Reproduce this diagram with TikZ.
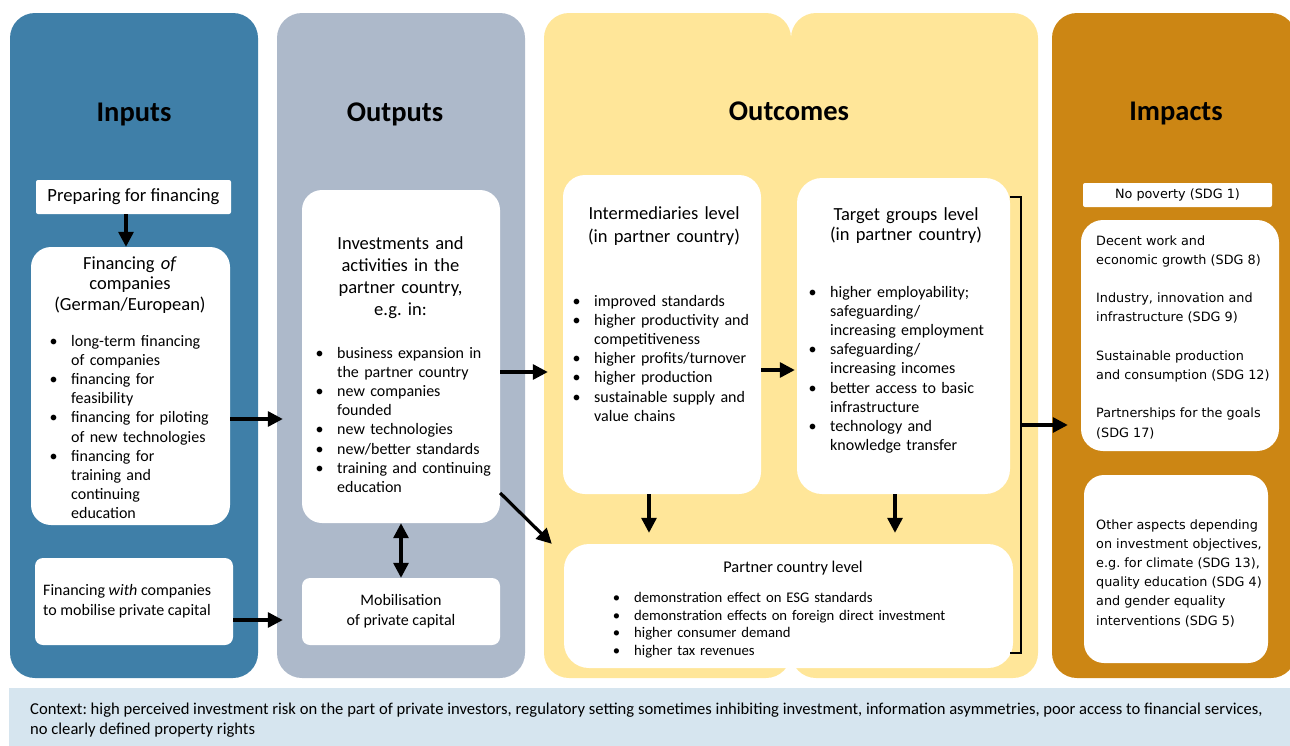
\documentclass[tikz,border=0pt]{standalone}
\usepackage{fontspec}
\setmainfont{Carlito}
\newfontfamily\verdana{DejaVu Sans}
\usepackage{xcolor}
\usepackage{tikz}
\usetikzlibrary{arrows.meta}
\definecolor{inputblue}{HTML}{3F7FA8}
\definecolor{outputgrey}{HTML}{ADB9CA}
\definecolor{outcomeyellow}{HTML}{FFE699}
\definecolor{impactgold}{HTML}{CC8614}
\definecolor{contextblue}{HTML}{D6E5EF}
\newcommand{\itm}[1]{\noindent\llap{\makebox[35.2pt][c]{\textbullet}}#1\par}
\frenchspacing

\begin{document}
\begin{tikzpicture}[x=1pt,y=-1pt,
  panel/.style={rounded corners=25pt, minimum height=665pt, inner sep=0pt},
  wbox/.style={fill=white, inner sep=0pt},
  ttl/.style={anchor=base, font=\bfseries\fontsize{28.5}{34}\selectfont},
  head/.style={anchor=base, align=center, inner sep=0pt, font=\fontsize{18.5}{22}\selectfont},
  lst/.style={anchor=base west, align=left, inner sep=0pt, text width=#1, font=\fontsize{16}{19.2}\selectfont},
  sdgtxt/.style={anchor=west, align=left, inner sep=0pt, font=\verdana\fontsize{12.8}{19.2}\selectfont},
  arr/.style={line width=3.2pt, -{Triangle[length=15pt,width=15pt]}},
  dbl/.style={line width=3.2pt, {Triangle[length=15pt,width=15pt]}-{Triangle[length=15pt,width=15pt]}},
  brk/.style={line width=2.5pt}]
\useasboundingbox (0,0) rectangle (1290,745);

\node[panel, fill=inputblue, minimum width=248pt] (inputs) at (134,345.5) {};
\node[panel, fill=outputgrey, minimum width=248pt] (outputs) at (401,345.5) {};
\node[panel, fill=outcomeyellow, minimum width=247pt] (outcomesL) at (667.5,345.5) {};
\node[panel, fill=outcomeyellow, minimum width=247pt] (outcomesR) at (914.5,345.5) {};
\node[panel, fill=impactgold, minimum width=244pt] (impacts) at (1174,345.5) {};
\node[fill=contextblue, minimum width=1283pt, minimum height=58pt, inner sep=0pt] (context) at (650.5,717) {};
\node[anchor=base west, align=left, inner sep=0pt, font=\fontsize{16.6}{20}\selectfont] (contexttext) at (30,734) {Context: high perceived investment risk on the part of private investors, regulatory setting sometimes inhibiting investment, information asymmetries, poor access to financial services,\\ no clearly defined property rights};

\node[ttl] (tin) at (134,121) {Inputs};
\node[ttl] (tout) at (395,121) {Outputs};
\node[ttl] (toc) at (789,120) {Outcomes};
\node[ttl] (tim) at (1176,120) {Impacts};

\node[wbox, rounded corners=2pt, minimum width=195pt, minimum height=34pt, font=\fontsize{18.6}{22}\selectfont] (prep) at (133.5,197) {Preparing for financing};
\node[wbox, rounded corners=20pt, minimum width=199pt, minimum height=278pt] (finof) at (130.5,386) {};
\node[head, text width=190pt, font=\fontsize{18.5}{20.5}\selectfont] (finofhead) at (130,269) {Financing \emph{of}\\ companies\\ (German/European)};
\node[lst=165pt] (finoflist) at (71,346) {\itm{long-term financing\\ of companies}\itm{financing for\\ feasibility}\itm{financing for piloting\\ of new technologies}\itm{financing for\\ training and\\ continuing\\ education}};
\node[wbox, rounded corners=8pt, minimum width=198pt, minimum height=87pt] (finwith) at (134,601.5) {};
\node[anchor=west, align=left, inner sep=0pt, font=\fontsize{16}{20}\selectfont] (finwithtext) at (43,601) {Financing \emph{with} companies\\ to mobilise private capital};

\node[wbox, rounded corners=20pt, minimum width=198pt, minimum height=333pt] (invest) at (401,356.5) {};
\node[head, text width=190pt] (investhead) at (400.5,249) {Investments and\\ activities in the\\ partner country,\\ e.g. in:};
\node[lst=160pt] (investlist) at (337,358) {\itm{business expansion in\\ the partner country}\itm{new companies\\ founded}\itm{new technologies}\itm{new/better standards}\itm{training and continuing\\ education}};
\node[wbox, rounded corners=8pt, minimum width=198pt, minimum height=67pt, align=center, font=\fontsize{16}{20}\selectfont] (mobil) at (401,611.5) {Mobilisation\\ of private capital};

\node[wbox, rounded corners=22pt, minimum width=198pt, minimum height=319pt] (inter) at (662,334.5) {};
\node[head, text width=190pt, font=\fontsize{18.5}{23}\selectfont] (interhead) at (664,219) {Intermediaries level\\ (in partner country)};
\node[lst=165pt] (interlist) at (594,306) {\itm{improved standards}\itm{higher productivity and\\ competitiveness}\itm{higher profits/turnover}\itm{higher production}\itm{sustainable supply and\\ value chains}};
\node[wbox, rounded corners=25pt, minimum width=213pt, minimum height=316pt] (target) at (903.5,336) {};
\node[head, text width=205pt, font=\fontsize{18.5}{20.5}\selectfont] (targethead) at (906,220) {Target groups level\\ (in partner country)};
\node[lst=175pt] (targetlist) at (830,297) {\itm{higher employability;\\ safeguarding/\\ increasing employment}\itm{safeguarding/\\ increasing incomes}\itm{better access to basic\\ infrastructure}\itm{technology and\\ knowledge transfer}};
\node[wbox, rounded corners=25pt, minimum width=449pt, minimum height=124pt] (partner) at (788.5,606) {};
\node[anchor=base, inner sep=0pt, font=\fontsize{16.4}{20}\selectfont] (partnerhead) at (793,572) {Partner country level};
\node[lst=330pt, font=\fontsize{14.7}{17.7}\selectfont] (partnerlist) at (634,602.5) {\itm{demonstration effect on ESG standards}\itm{demonstration effects on foreign direct investment}\itm{higher consumer demand}\itm{higher tax revenues}};

\node[wbox, rounded corners=2pt, minimum width=189pt, minimum height=24pt, font=\verdana\fontsize{12.8}{15}\selectfont] (nopov) at (1177.5,195) {No poverty (SDG 1)};
\node[wbox, rounded corners=22pt, minimum width=198pt, minimum height=231pt] (sdg) at (1180,335.5) {};
\node[sdgtxt] (sdgtext) at (1096,337) {Decent work and\\ economic growth (SDG 8)\\[19.2pt] Industry, innovation and\\ infrastructure (SDG 9)\\[19.2pt] Sustainable production\\ and consumption (SDG 12)\\[19.2pt] Partnerships for the goals\\ (SDG 17)};
\node[wbox, rounded corners=20pt, minimum width=184pt, minimum height=188pt] (other) at (1176,569) {};
\node[sdgtxt] (othertext) at (1096,573) {Other aspects depending\\ on investment objectives,\\ e.g. for climate (SDG 13),\\ quality education (SDG 4)\\ and gender equality\\ interventions (SDG 5)};

\draw[arr] ([xshift=-7.5pt]prep.south) -- ([xshift=-7.5pt]prep.south |- finof.north);
\draw[arr, shorten >=19pt] ([yshift=-33pt]finof.east) -- ([yshift=-33pt]finof.east -| invest.west);
\draw[arr, shorten >=19pt] ([yshift=-18.5pt]finwith.east) -- ([yshift=-18.5pt]finwith.east -| mobil.west);
\draw[dbl] (invest.south) -- (mobil.north);
\draw[arr, shorten >=15pt] ([yshift=-15.5pt]invest.east) -- ([yshift=-15.5pt]invest.east -| inter.west);
\draw[arr] ([yshift=-136.5pt]invest.east) -- ([xshift=-12pt]partner.north west);
\draw[arr, shorten >=2pt] ([yshift=-35.5pt]inter.east) -- ([yshift=-35.5pt]inter.east -| target.west);
\draw[arr, shorten >=11pt] ([xshift=-13pt]inter.south) -- ([xshift=-13pt]inter.south |- partner.north);
\draw[arr, shorten >=11pt] ([xshift=-8.5pt]target.south) -- ([xshift=-8.5pt]target.south |- partner.north);
\coordinate (bt) at (1021,197);
\coordinate (bb) at (1021,653);
\coordinate (bm) at (1021,425);
\draw[brk] (target.east |- bt) -- (bt) -- (bb) -- (target.east |- bb);
\draw[arr, shorten >=13pt] (bm) -- (bm -| sdg.west);
\end{tikzpicture}
\end{document}
